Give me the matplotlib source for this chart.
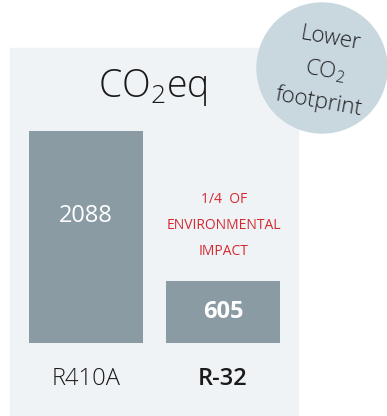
import matplotlib.pyplot as plt
from matplotlib.patches import Rectangle, Circle

# waarden voor de staafjes
refrigerants = ['R410A', 'R-32']
co2_eq = [2088, 605]
label_pos = [0.6, 0.5]  # hoogte van het getal binnen de staaf (fractie)
name_weights = ['light', 'semibold']
value_weights = ['normal', 'bold']

note_lines = ['1/4  OF', 'ENVIRONMENTAL', 'IMPACT']
badge_lines = ['Lower', r'$\mathrm{CO_2}$', 'footprint']

panel_color = '#eff3f6'
bar_color = '#8b9ba4'
badge_color = '#c9d7df'
red = '#d42a2f'
fonts = ['Open Sans', 'DejaVu Sans']

plt.rcParams['font.family'] = fonts
plt.rcParams['mathtext.fontset'] = 'custom'
plt.rcParams['mathtext.rm'] = 'Open Sans:light'
plt.rcParams['mathtext.it'] = 'Open Sans:light:italic'
plt.rcParams['mathtext.bf'] = 'Open Sans:bold'

fig = plt.figure(figsize=(3.87, 4.16), dpi=100)

# achtergrond in pixelcoordinaten
bg = fig.add_axes([0, 0, 1, 1])
bg.set_xlim(0, 387)
bg.set_ylim(416, 0)
bg.axis('off')
bg.add_patch(Rectangle((10, 48), 288, 370, color=panel_color, zorder=1))
bg.add_patch(Circle((322, 68), 65, color=badge_color, zorder=2))

bg.text(153, 97, r'$\mathrm{CO_2eq}$', fontsize=27, color='#1a1a1a',
        ha='center', va='baseline', zorder=3)

# tekst in de cirkel, iets gedraaid
for (x, y), line in zip([(331, 39), (325, 71), (319, 102)], badge_lines):
    bg.text(x, y, line, fontsize=16, weight='light', color='#1e1e1e',
            ha='center', va='center', rotation=-10, zorder=3)

# staafdiagram
ax = fig.add_axes([29 / 387, (416 - 342.5) / 416, 251 / 387, 211.5 / 416])
ax.set_xlim(-0.416, 1.416)
ax.set_ylim(0, max(co2_eq))
ax.axis('off')
ax.patch.set_alpha(0)
ax.bar(range(len(co2_eq)), co2_eq, width=0.832, color=bar_color)

for i, (name, val) in enumerate(zip(refrigerants, co2_eq)):
    ax.text(i, val * label_pos[i], str(val), fontsize=17, color='white',
            weight=value_weights[i], ha='center', va='center')
    ax.annotate(name, (i, 0), xytext=(0, -26.3), textcoords='offset points',
                fontsize=17, weight=name_weights[i], color='#1a1a1a',
                ha='center', va='center', annotation_clip=False)

ax.annotate('\n'.join(note_lines), (1, co2_eq[1]), xytext=(0.5, 40),
            textcoords='offset points', fontsize=10, color=red,
            ha='center', va='center', linespacing=1.98, annotation_clip=False)

fig.savefig('out.png', dpi=100)
